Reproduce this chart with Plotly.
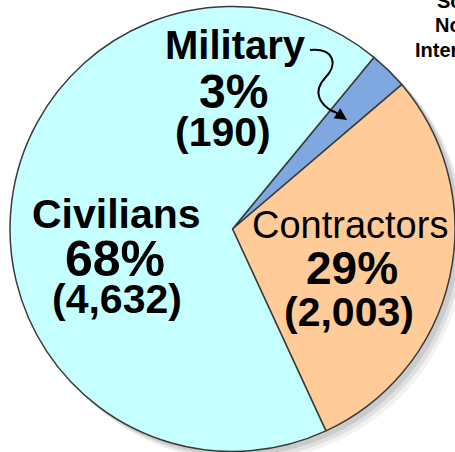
import plotly.graph_objects as go

W, H = 455, 452

groups = ["Military", "Contractors", "Civilians"]
counts = [190, 2003, 4632]
colors = ["#7FA7E0", "#FFCC99", "#C6FFFF"]
pct_labels = ["3%", "29%", "68%"]
count_labels = ["(190)", "(2,003)", "(4,632)"]
corner_text = ["So", "No", "Inter"]


# pixel -> paper coords
def px(x):
    return x / W


def py(y):
    return 1 - y / H


fig = go.Figure()

fig.add_trace(go.Pie(
    labels=groups, values=counts, sort=False, direction="clockwise",
    rotation=39.5, textinfo="none", hoverinfo="label+value+percent",
    marker=dict(colors=colors, line=dict(color="#3a3a3a", width=1.5)),
    domain=dict(x=[px(10), 1], y=[0, py(6)]),
    showlegend=False))

# soft drop shadow behind the pie
cx, cy, r = 233, 229, 223
shapes = []
for d, a in [(10, 0.05), (7, 0.07), (4, 0.09)]:
    shapes.append(dict(type="circle", xref="paper", yref="paper",
                       x0=px(cx - r + d), x1=px(cx + r + d),
                       y0=py(cy + r + d), y1=py(cy - r + d),
                       fillcolor=f"rgba(0,0,0,{a})", line_width=0,
                       layer="below"))

# curved arrow from "Military" to its slice
shapes.append(dict(type="path", xref="paper", yref="paper",
                   path=(f"M {px(310)},{py(50)} C {px(335)},{py(48)} "
                         f"{px(338)},{py(65)} {px(325)},{py(78)} "
                         f"C {px(312)},{py(92)} {px(320)},{py(105)} "
                         f"{px(334)},{py(112)}"),
                   line=dict(color="black", width=2)))
fig.update_layout(shapes=shapes)

FONT = "Liberation Sans, Arial, sans-serif"
ann = []


def label(x, y, text, size, bold=True):
    t = f"<b>{text}</b>" if bold else text
    ann.append(dict(x=px(x), y=py(y), xref="paper", yref="paper",
                    text=t, showarrow=False, xanchor="center",
                    yanchor="middle",
                    font=dict(family=FONT, size=size, color="black")))


label(235, 45, groups[0], 40)
label(234, 91, pct_labels[0], 48)
label(223, 132, count_labels[0], 41)

label(350, 225, groups[1], 38, bold=False)
label(352, 268, pct_labels[1], 46)
label(349, 312, count_labels[1], 41)

label(117, 214, groups[2], 41)
label(115, 259, pct_labels[2], 50)
label(117, 299, count_labels[2], 41)

ann.append(dict(x=px(347), y=py(120), ax=-15, ay=-10,
                xref="paper", yref="paper",
                text="", showarrow=True, arrowhead=2, arrowsize=1.2,
                arrowwidth=2, arrowcolor="black"))

for txt, x, y in zip(corner_text, [435, 433, 413], [1, 25, 50]):
    ann.append(dict(x=px(x), y=py(y), xref="paper", yref="paper",
                    text=f"<b>{txt}</b>", showarrow=False, xanchor="left",
                    yanchor="middle",
                    font=dict(family=FONT, size=20, color="black")))

fig.update_layout(
    annotations=ann, width=W, height=H,
    margin=dict(l=0, r=0, t=0, b=0),
    paper_bgcolor="white", plot_bgcolor="white")

# drop the default 8px page margin so the figure sits at the window corner
fig.write_html("out.html", config={"displayModeBar": False},
               post_script="document.body.style.margin='0';")
